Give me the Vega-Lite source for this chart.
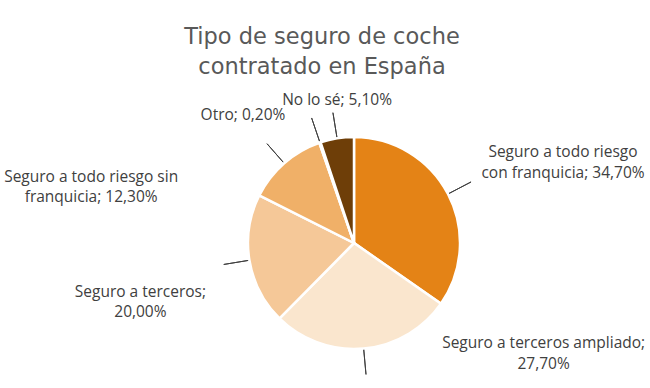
{
  "$schema": "https://vega.github.io/schema/vega-lite/v6.json",
  "autosize": {"type": "none"},
  "width": 212,
  "height": 212,
  "padding": {"left": 248, "top": 137, "right": 190, "bottom": 39},
  "background": "white",
  "config": {"view": {"stroke": null}},
  "title": {
    "text": ["Tipo de seguro de coche", "contratado en España"],
    "font": "DejaVu Sans",
    "fontSize": 22.5,
    "fontWeight": "normal",
    "color": "#595959",
    "lineHeight": 30,
    "anchor": "middle",
    "baseline": "bottom",
    "offset": -12,
    "dx": -32
  },
  "data": {
    "values": [
      {"orden": 1, "categoria": "Seguro a todo riesgo con franquicia", "valor": 34.7, "etiqueta": "Seguro a todo riesgo\ncon franquicia; 34,70%"},
      {"orden": 2, "categoria": "Seguro a terceros ampliado", "valor": 27.7, "etiqueta": "Seguro a terceros ampliado;\n27,70%"},
      {"orden": 3, "categoria": "Seguro a terceros", "valor": 20.0, "etiqueta": "Seguro a terceros;\n20,00%"},
      {"orden": 4, "categoria": "Seguro a todo riesgo sin franquicia", "valor": 12.3, "etiqueta": "Seguro a todo riesgo sin\nfranquicia; 12,30%"},
      {"orden": 5, "categoria": "Otro", "valor": 0.2, "etiqueta": "Otro; 0,20%"},
      {"orden": 6, "categoria": "No lo sé", "valor": 5.1, "etiqueta": "No lo sé; 5,10%"}
    ]
  },
  "encoding": {
    "theta": {"field": "valor", "type": "quantitative", "stack": true},
    "order": {"field": "orden", "type": "quantitative"}
  },
  "layer": [
    {
      "mark": {"type": "arc", "filled": false, "innerRadius": 106, "outerRadius": 132, "padAngle": 3.3, "stroke": "#404040", "strokeWidth": 1},
      "encoding": {}
    },
    {
      "mark": {"type": "arc", "outerRadius": 106, "stroke": "white", "strokeWidth": 2.5},
      "encoding": {
        "color": {
          "field": "categoria",
          "type": "nominal",
          "sort": null,
          "legend": null,
          "scale": {
            "domain": ["Seguro a todo riesgo con franquicia", "Seguro a terceros ampliado", "Seguro a terceros", "Seguro a todo riesgo sin franquicia", "Otro", "No lo sé"],
            "range": ["#E48316", "#FAE6CE", "#F5C898", "#F0B068", "#E9A050", "#6E3E08"]
          }
        }
      }
    },
    {
      "mark": {"type": "text", "radius": 106, "dx": 115, "dy": -42, "font": "Open Sans", "fontSize": 15.5, "color": "#404040", "lineBreak": "\n", "lineHeight": 21, "align": "center", "baseline": "middle"},
      "encoding": {"text": {"condition": {"test": "datum.orden === 1", "field": "etiqueta"}, "value": ""}}
    },
    {
      "mark": {"type": "text", "radius": 106, "dx": 180, "dy": -6, "font": "Open Sans", "fontSize": 15.5, "color": "#404040", "lineBreak": "\n", "lineHeight": 21, "align": "center", "baseline": "middle"},
      "encoding": {"text": {"condition": {"test": "datum.orden === 2", "field": "etiqueta"}, "value": ""}}
    },
    {
      "mark": {"type": "text", "radius": 106, "dx": -109, "dy": 32, "font": "Open Sans", "fontSize": 15.5, "color": "#404040", "lineBreak": "\n", "lineHeight": 20, "align": "center", "baseline": "middle"},
      "encoding": {"text": {"condition": {"test": "datum.orden === 3", "field": "etiqueta"}, "value": ""}}
    },
    {
      "mark": {"type": "text", "radius": 106, "dx": -193, "dy": 14, "font": "Open Sans", "fontSize": 15.5, "color": "#404040", "lineBreak": "\n", "lineHeight": 20, "align": "center", "baseline": "middle"},
      "encoding": {"text": {"condition": {"test": "datum.orden === 4", "field": "etiqueta"}, "value": ""}}
    },
    {
      "mark": {"type": "text", "radius": 106, "dx": -77, "dy": -28, "font": "Open Sans", "fontSize": 15.5, "color": "#404040", "lineBreak": "\n", "lineHeight": 21, "align": "center", "baseline": "middle"},
      "encoding": {"text": {"condition": {"test": "datum.orden === 5", "field": "etiqueta"}, "value": ""}}
    },
    {
      "mark": {"type": "text", "radius": 106, "dx": 0, "dy": -38, "font": "Open Sans", "fontSize": 15.5, "color": "#404040", "lineBreak": "\n", "lineHeight": 21, "align": "center", "baseline": "middle"},
      "encoding": {"text": {"condition": {"test": "datum.orden === 6", "field": "etiqueta"}, "value": ""}}
    }
  ]
}
